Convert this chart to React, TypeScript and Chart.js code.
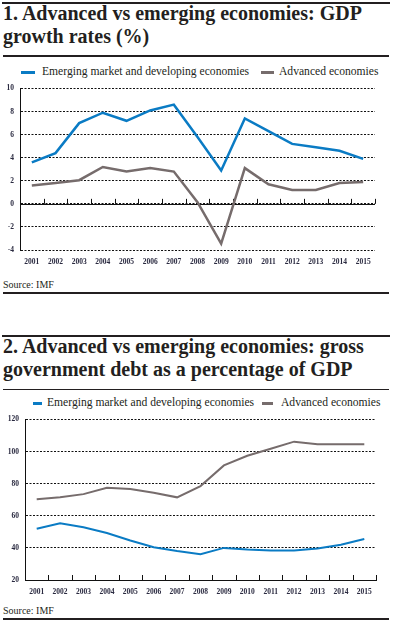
import React, { useEffect, useRef } from "react";
import { Chart, registerables } from "chart.js";

Chart.register(...registerables);

const years = ["2001","2002","2003","2004","2005","2006","2007","2008","2009","2010","2011","2012","2013","2014","2015"];

const growthEmerging = [3.6, 4.4, 7.0, 7.9, 7.2, 8.1, 8.6, 5.8, 2.9, 7.4, 6.3, 5.2, 4.9, 4.6, 3.9];
const growthAdvanced = [1.6, 1.8, 2.05, 3.2, 2.8, 3.1, 2.8, 0.15, -3.45, 3.1, 1.7, 1.2, 1.2, 1.8, 1.9];

const debtEmerging = [51.9, 55.3, 52.9, 49.3, 44.6, 40.4, 38.0, 36.0, 40.0, 39.0, 38.4, 38.4, 39.6, 42.0, 45.6];
const debtAdvanced = [70.3, 71.5, 73.5, 77.5, 76.7, 74.3, 71.5, 78.5, 91.4, 97.4, 101.8, 106.2, 104.6, 104.6, 104.6];

const legendLabels = ["Emerging market and developing economies", "Advanced economies"];
const titles = [
  ["1. Advanced vs emerging economies: GDP", "growth rates (%)"],
  ["2. Advanced vs emerging economies: gross", "government debt as a percentage of GDP"],
];
const sourceText = "Source: IMF";

const BLUE = "#0a7bc4";
const GRAY = "#766c6c";
const INK = "#231f20";
const TICK_FONT = { family: '"Liberation Serif", serif', size: 7.5, weight: "bold" as const };

const axisMarks = {
  id: "axisMarks",
  beforeDatasetsDraw(chart: any, _args: any, opts: any) {
    const { ctx, chartArea, scales } = chart;
    const x = scales.x;
    const y = scales.y;
    const baseY = y.getPixelForValue(opts.base);
    ctx.save();
    ctx.strokeStyle = "#111";
    ctx.lineWidth = 1;
    ctx.setLineDash([]);
    if (opts.solidBase) {
      ctx.beginPath();
      ctx.moveTo(chartArea.left, Math.round(baseY) + 0.5);
      ctx.lineTo(chartArea.right, Math.round(baseY) + 0.5);
      ctx.stroke();
    }
    const n = chart.data.labels.length;
    for (let i = 1; i <= n; i++) {
      const xb = i === n ? chartArea.right : (x.getPixelForValue(i - 1) + x.getPixelForValue(i)) / 2;
      const px = Math.round(xb) + 0.5;
      ctx.beginPath();
      ctx.moveTo(px, baseY);
      ctx.lineTo(px, baseY - 5);
      ctx.stroke();
    }
    ctx.restore();
  },
};

function makeConfig(
  em: number[],
  adv: number[],
  min: number,
  max: number,
  step: number,
  yWidth: number,
  xHeight: number,
  padRight: number,
  base: number,
  solidBase: boolean,
  lw: number
): any {
  return {
    type: "line",
    data: {
      labels: years,
      datasets: [
        { label: legendLabels[0], data: em, borderColor: BLUE, backgroundColor: BLUE, borderWidth: lw, pointRadius: 0, tension: 0 },
        { label: legendLabels[1], data: adv, borderColor: GRAY, backgroundColor: GRAY, borderWidth: lw, pointRadius: 0, tension: 0 },
      ],
    },
    plugins: [axisMarks],
    options: {
      responsive: false,
      animation: false,
      layout: { padding: { top: 4, right: padRight, left: 0, bottom: 0 } },
      plugins: {
        legend: { display: false },
        tooltip: { enabled: false },
        axisMarks: { base, solidBase },
      },
      scales: {
        x: {
          offset: true,
          grid: { display: false, drawTicks: false },
          border: { display: !solidBase, color: "#111", width: 1 },
          ticks: { color: "#2a2a40", font: TICK_FONT, padding: 8, maxRotation: 0, autoSkip: false },
          afterFit: (s: any) => { s.height = xHeight; },
        },
        y: {
          min,
          max,
          ticks: { stepSize: step, color: "#2a2a40", font: TICK_FONT, padding: 6 },
          grid: { color: "#111", lineWidth: 1, drawTicks: false },
          border: { display: true, color: "#111", width: 1, dash: [2, 1.5] },
          afterFit: (s: any) => { s.width = yWidth; },
        },
      },
    },
  };
}

function ChartCanvas({ config, top, height }: { config: any; top: number; height: number }) {
  const ref = useRef<HTMLCanvasElement>(null);
  useEffect(() => {
    if (!ref.current) return;
    const c = new Chart(ref.current, config);
    return () => c.destroy();
  }, []);
  return (
    <canvas ref={ref} width={393} height={height} style={{ position: "absolute", left: 0, top, width: 393, height }} />
  );
}

function Rule({ top, h, left = 3, right = 389 }: { top: number; h: number; left?: number; right?: number }) {
  return <div style={{ position: "absolute", left, top, width: right - left, height: h, background: INK }} />;
}

function Legend({ top, sw }: { top: number; sw: number[] }) {
  const textStyle: React.CSSProperties = { position: "absolute", top, fontSize: 11.6, lineHeight: "12px", whiteSpace: "nowrap", color: INK };
  const swatch = (left: number, w: number, color: string) => (
    <div style={{ position: "absolute", left, top: top + 5, width: w, height: 3, background: color }} />
  );
  return (
    <>
      {swatch(sw[0], sw[1], BLUE)}
      <div style={{ ...textStyle, left: sw[2] }}>{legendLabels[0]}</div>
      {swatch(sw[3], sw[4], GRAY)}
      <div style={{ ...textStyle, left: sw[5] }}>{legendLabels[1]}</div>
    </>
  );
}

export default function App() {
  const titleStyle: React.CSSProperties = {
    position: "absolute",
    left: 3,
    fontSize: 20,
    lineHeight: "23px",
    fontWeight: "bold",
    color: INK,
    whiteSpace: "nowrap",
  };
  const srcStyle: React.CSSProperties = { position: "absolute", left: 3, fontSize: 10, lineHeight: "12px", color: INK };
  const cfg1 = makeConfig(growthEmerging, growthAdvanced, -4, 10, 2, 20, 24, 18, 0, true, 2.5);
  const cfg2 = makeConfig(debtEmerging, debtAdvanced, 20, 120, 20, 25, 20, 17, 20, false, 2);
  return (
    <div style={{ position: "absolute", left: 0, top: 0, width: 393, height: 622, background: "#fff", fontFamily: '"Liberation Serif", serif', overflow: "hidden" }}>
      <Rule top={2} h={2} left={2} right={390} />
      <div style={{ ...titleStyle, top: 2 }}>
        {titles[0][0]}
        <br />
        {titles[0][1]}
      </div>
      <Rule top={55} h={1.5} />
      <Legend top={66} sw={[21, 14, 42, 261, 13, 279]} />
      <ChartCanvas config={cfg1} top={78} height={196} />
      <div style={{ ...srcStyle, top: 279 }}>{sourceText}</div>
      <Rule top={292} h={1.5} />

      <Rule top={335} h={2} left={2} right={390} />
      <div style={{ ...titleStyle, top: 335 }}>
        {titles[1][0]}
        <br />
        {titles[1][1]}
      </div>
      <Rule top={388.5} h={1.5} />
      <Legend top={397} sw={[33, 9, 47, 262, 11, 281]} />
      <ChartCanvas config={cfg2} top={409} height={191} />
      <div style={{ ...srcStyle, top: 604.5 }}>{sourceText}</div>
      <Rule top={618} h={1.5} />
    </div>
  );
}
